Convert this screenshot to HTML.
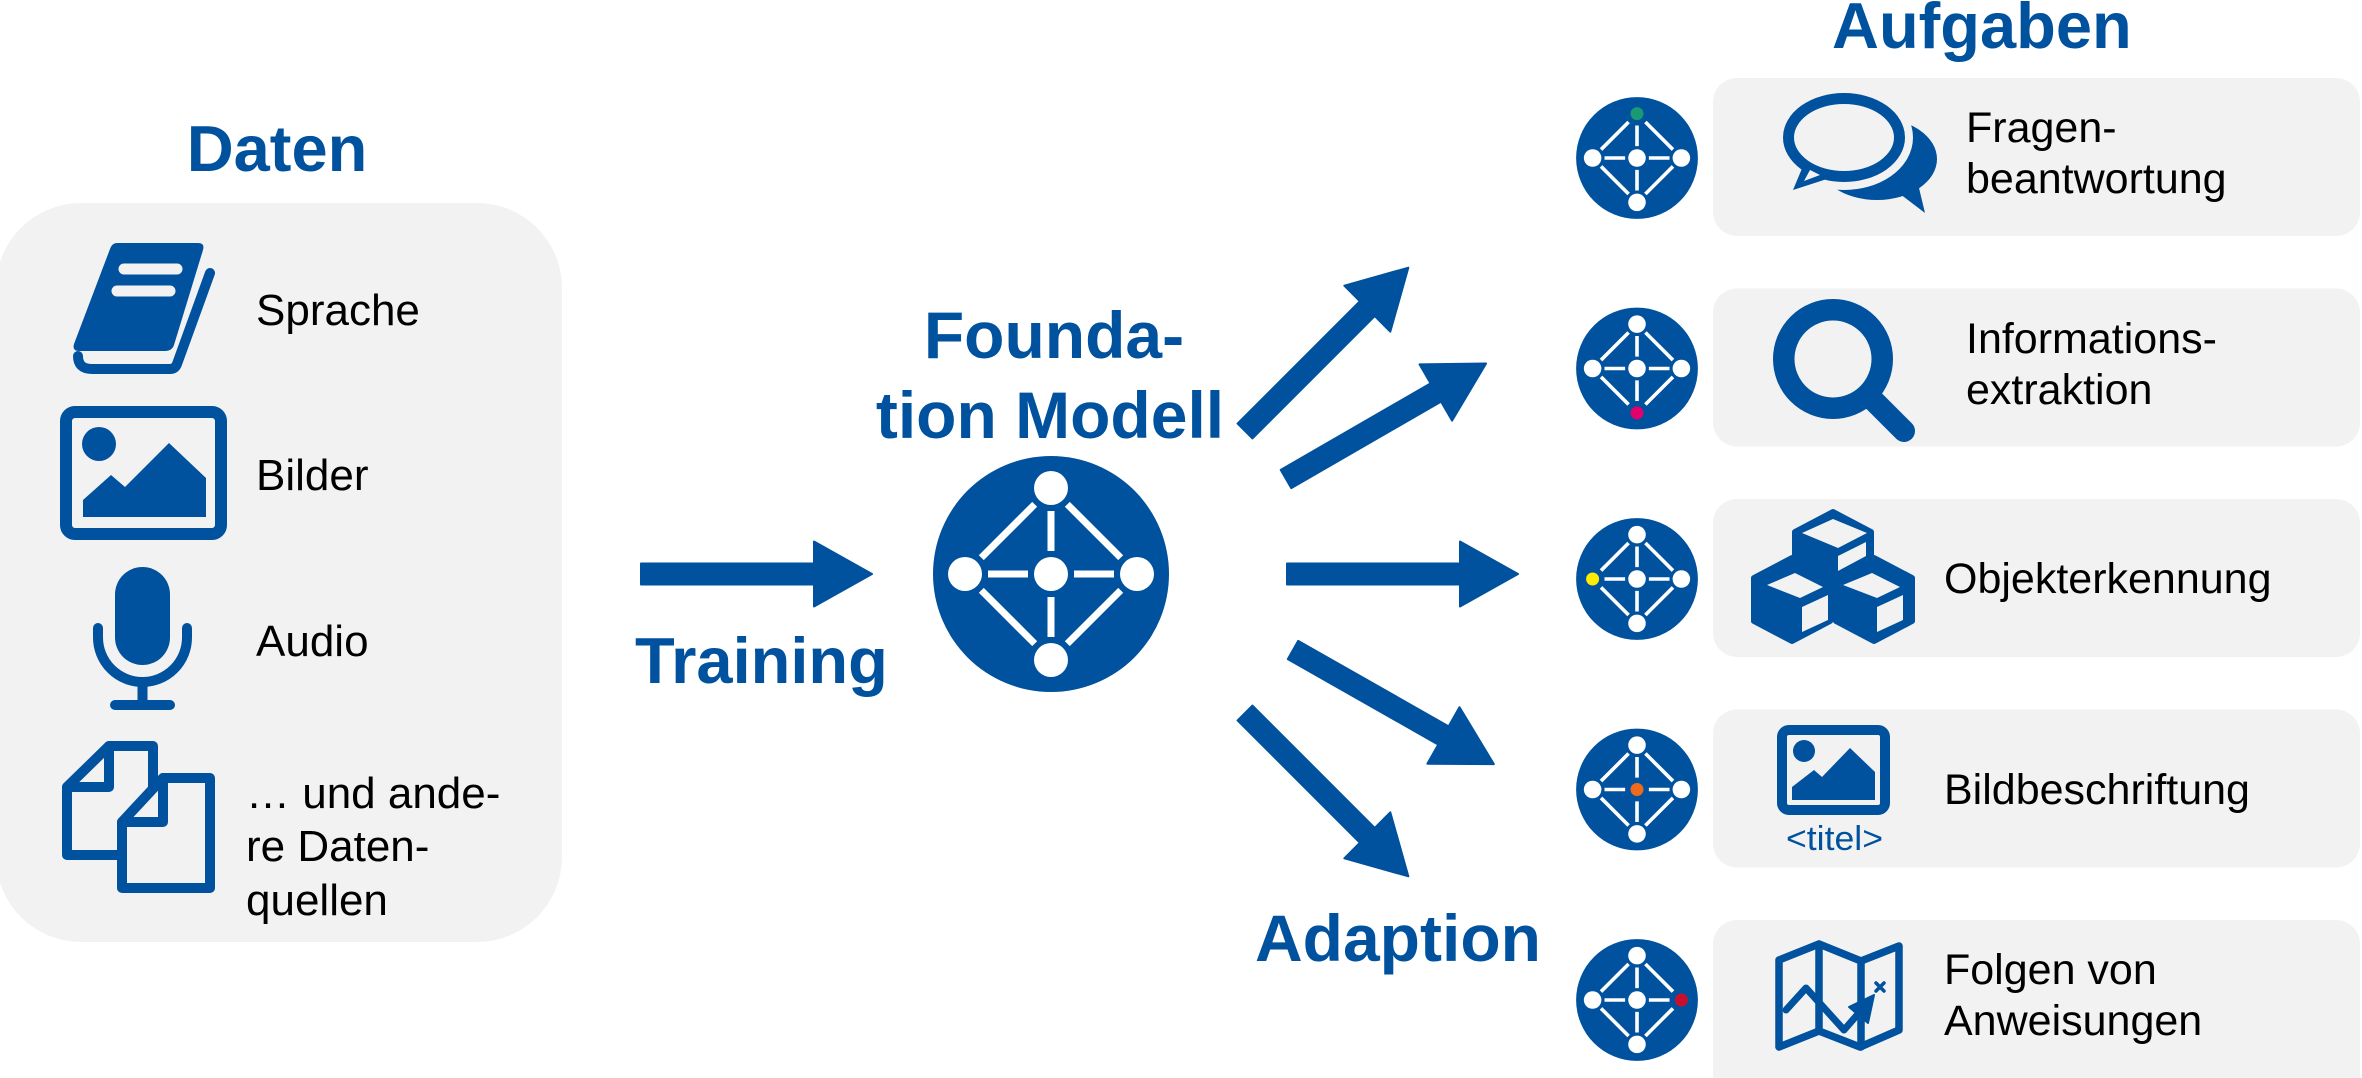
<!DOCTYPE html>
<html>
<head>
<meta charset="utf-8">
<style>
html,body{margin:0;padding:0;background:#fff;}
svg{display:block;}
.t{font-family:"Liberation Sans",Arial,sans-serif;}
.b{font-family:"Liberation Sans",Arial,sans-serif;font-weight:bold;fill:#00519e;}
</style>
</head>
<body>
<svg width="2362" height="1078" viewBox="0 0 2362 1078" xmlns="http://www.w3.org/2000/svg">
<defs>
  <g id="net">
    <circle cx="0" cy="0" r="118" fill="#00519e"/>
    <g stroke="#fff" stroke-width="7">
      <line x1="0" y1="-63" x2="0" y2="-23"/>
      <line x1="0" y1="23" x2="0" y2="63"/>
      <line x1="-63" y1="0" x2="-23" y2="0"/>
      <line x1="23" y1="0" x2="63" y2="0"/>
      <line x1="-16.3" y1="-69.7" x2="-69.7" y2="-16.3"/>
      <line x1="16.3" y1="-69.7" x2="69.7" y2="-16.3"/>
      <line x1="-69.7" y1="16.3" x2="-16.3" y2="69.7"/>
      <line x1="69.7" y1="16.3" x2="16.3" y2="69.7"/>
    </g>
    <g fill="#fff">
      <circle cx="0" cy="-86" r="17"/>
      <circle cx="-86" cy="0" r="17"/>
      <circle cx="0" cy="0" r="17"/>
      <circle cx="86" cy="0" r="17"/>
      <circle cx="0" cy="86" r="17"/>
    </g>
  </g>
  <polygon id="arr" points="0,-10.5 173,-10.5 173,-32.5 231,0 173,32.5 173,10.5 0,10.5" fill="#00519e" stroke="#00519e" stroke-width="2" stroke-linejoin="round"/>
</defs>

<!-- LEFT PANEL -->
<text x="277" y="171" class="b" font-size="65" text-anchor="middle">Daten</text>
<rect x="-4" y="203" width="566" height="739" rx="85" ry="85" fill="#f2f2f2"/>

<!-- Book -->
<path d="M78 356 Q78 369 92 369 L170 369 Q175 369 177 364 L210 273" fill="none" stroke="#00519e" stroke-width="10" stroke-linecap="round" stroke-linejoin="round"/>
<path d="M117 243 L198 243 Q205 243 203 250 L174 345 Q172 351 165 351 L79 351 Q72 351 74 344 L110 249 Q112 243 117 243 Z" fill="#00519e"/>
<line x1="124" y1="269" x2="177" y2="269" stroke="#f2f2f2" stroke-width="11" stroke-linecap="round"/>
<line x1="117" y1="291" x2="170" y2="291" stroke="#f2f2f2" stroke-width="11" stroke-linecap="round"/>
<text x="256" y="325" class="t" font-size="44" fill="#000">Sprache</text>

<!-- Image -->
<rect x="66" y="412" width="155" height="122" rx="9" fill="none" stroke="#00519e" stroke-width="12"/>
<circle cx="99" cy="444" r="17" fill="#00519e"/>
<polygon points="83,500 111,475 125,487 169,443 206,478 206,517 83,517" fill="#00519e"/>
<text x="256" y="490" class="t" font-size="44" fill="#000">Bilder</text>

<!-- Mic -->
<rect x="115" y="567" width="55" height="98" rx="27.5" fill="#00519e"/>
<path d="M98 628 L98 637.5 A44.5 44.5 0 0 0 187 637.5 L187 628" fill="none" stroke="#00519e" stroke-width="10" stroke-linecap="round"/>
<line x1="142.5" y1="682" x2="142.5" y2="703" stroke="#00519e" stroke-width="10"/>
<line x1="115" y1="705" x2="170" y2="705" stroke="#00519e" stroke-width="10" stroke-linecap="round"/>
<text x="256" y="656" class="t" font-size="44" fill="#000">Audio</text>

<!-- Docs -->
<g fill="none" stroke="#00519e" stroke-width="10" stroke-linejoin="round" stroke-linecap="round">
  <path d="M67 787 L109 746 L153 746 L153 855 L67 855 Z" fill="#f2f2f2"/>
  <path d="M109 746 L109 787 L67 787"/>
  <path d="M122 822 L163 778 L210 778 L210 888 L122 888 Z" fill="#f2f2f2"/>
  <path d="M163 778 L163 822 L122 822"/>
</g>
<text x="246" y="808" class="t" font-size="44" fill="#000">… und ande-</text>
<text x="246" y="861" class="t" font-size="44" fill="#000">re Daten-</text>
<text x="246" y="915" class="t" font-size="44" fill="#000">quellen</text>

<!-- TRAINING -->
<use href="#arr" transform="translate(641,574)"/>
<text x="635" y="683" class="b" font-size="65">Training</text>

<!-- FOUNDATION MODEL -->
<text x="1054" y="358" class="b" font-size="66" text-anchor="middle">Founda-</text>
<text x="1050" y="438" class="b" font-size="66" text-anchor="middle">tion Modell</text>
<use href="#net" transform="translate(1051,574)"/>

<!-- ADAPTION ARROWS -->
<use href="#arr" transform="translate(1245,431) rotate(-45)"/>
<use href="#arr" transform="translate(1286,479) rotate(-30)"/>
<use href="#arr" transform="translate(1287,574)"/>
<use href="#arr" transform="translate(1293,650) rotate(29.6)"/>
<use href="#arr" transform="translate(1245,713) rotate(45)"/>
<text x="1255" y="961" class="b" font-size="66">Adaption</text>

<!-- AUFGABEN -->
<text x="1832" y="48" class="b" font-size="65">Aufgaben</text>

<!-- boxes -->
<rect x="1713" y="78" width="647" height="158" rx="24" fill="#f2f2f2"/>
<rect x="1713" y="288.5" width="647" height="158" rx="24" fill="#f2f2f2"/>
<rect x="1713" y="499" width="647" height="158" rx="24" fill="#f2f2f2"/>
<rect x="1713" y="709.5" width="647" height="158" rx="24" fill="#f2f2f2"/>
<rect x="1713" y="920" width="647" height="180" rx="24" fill="#f2f2f2"/>

<!-- small nets -->
<use href="#net" transform="translate(1637,158) scale(0.516)"/>
<circle cx="1637" cy="113.6" r="10" fill="#00519e"/><circle cx="1637" cy="113.6" r="6.5" fill="#1a9a72"/>

<use href="#net" transform="translate(1637,368.5) scale(0.516)"/>
<circle cx="1637" cy="412.9" r="10" fill="#00519e"/><circle cx="1637" cy="412.9" r="6.5" fill="#e2006a"/>

<use href="#net" transform="translate(1637,579) scale(0.516)"/>
<circle cx="1592.6" cy="579" r="10" fill="#00519e"/><circle cx="1592.6" cy="579" r="6.5" fill="#ffec00"/>

<use href="#net" transform="translate(1637,789.5) scale(0.516)"/>
<circle cx="1637" cy="789.5" r="10" fill="#00519e"/><circle cx="1637" cy="789.5" r="6.5" fill="#f06a1c"/>

<use href="#net" transform="translate(1637,1000) scale(0.516)"/>
<circle cx="1681.4" cy="1000" r="10" fill="#00519e"/><circle cx="1681.4" cy="1000" r="6.5" fill="#c8102e"/>

<!-- Row1: speech bubbles -->
<ellipse cx="1877" cy="159" rx="60" ry="41" fill="#00519e"/>
<polygon points="1900,194 1925,213 1919,188" fill="#00519e"/>
<ellipse cx="1844" cy="137.5" rx="55.5" ry="39" fill="#f2f2f2" stroke="#f2f2f2" stroke-width="27"/>
<ellipse cx="1844" cy="137.5" rx="55.5" ry="39" fill="#f2f2f2" stroke="#00519e" stroke-width="11"/>
<polygon points="1803,166 1793,190 1830,178 1822,171" fill="#00519e"/>
<polygon points="1810,170 1804,181 1820,175" fill="#f2f2f2"/>
<text x="1966" y="142" class="t" font-size="43" fill="#000">Fragen-</text>
<text x="1966" y="193" class="t" font-size="43" fill="#000">beantwortung</text>

<!-- Row2: magnifier -->
<circle cx="1833" cy="359" r="49.25" fill="none" stroke="#00519e" stroke-width="21.5"/>
<line x1="1870" y1="397" x2="1904" y2="431" stroke="#00519e" stroke-width="22" stroke-linecap="round"/>
<text x="1966" y="353" class="t" font-size="43" fill="#000">Informations-</text>
<text x="1966" y="404" class="t" font-size="43" fill="#000">extraktion</text>

<!-- Row3: cubes -->
<g fill="#00519e" stroke="#00519e" stroke-width="6" stroke-linejoin="round">
  <polygon points="1833,512 1871,532 1871,576 1833,596 1795,576 1795,532"/>
  <polygon points="1792,558 1830,578 1830,621 1792,641 1754,621 1754,578"/>
  <polygon points="1874,558 1912,578 1912,621 1874,641 1836,621 1836,578"/>
</g>
<g fill="#f2f2f2">
  <polygon points="1802,533 1833,519 1867,533 1838,548"/>
  <polygon points="1838,556 1866,542 1866,556 1838,571"/>
  <polygon points="1767,585 1795,573 1823,587 1800,598"/>
  <polygon points="1802,607 1828,595 1828,620 1802,632"/>
  <polygon points="1843,585 1872,573 1900,587 1877,598"/>
  <polygon points="1877,607 1903,595 1903,620 1877,632"/>
</g>
<text x="1944" y="593" class="t" font-size="43" fill="#000">Objekterkennung</text>

<!-- Row4: picture with caption -->
<rect x="1782" y="730" width="103" height="80" rx="7" fill="none" stroke="#00519e" stroke-width="10"/>
<circle cx="1804" cy="751" r="11" fill="#00519e"/>
<polygon points="1792,787 1814,770 1822,777 1850,748 1875,772 1875,800 1792,800" fill="#00519e"/>
<text x="1786" y="850" class="t" font-size="34" fill="#00519e" textLength="97" lengthAdjust="spacingAndGlyphs">&lt;titel&gt;</text>
<text x="1944" y="804" class="t" font-size="43" fill="#000">Bildbeschriftung</text>

<!-- Row5: map -->
<g fill="none" stroke="#00519e" stroke-width="7.5" stroke-linejoin="round" stroke-linecap="round">
  <polygon points="1779,960 1819,944 1861,961 1899,946 1899,1030 1860,1047 1819,1031 1779,1047"/>
  <line x1="1819" y1="944" x2="1819" y2="1031"/>
  <line x1="1861" y1="961" x2="1861" y2="1047"/>
  <polyline points="1786,1010 1806,988 1844,1030 1858,1014" stroke-width="7"/>
  <line x1="1876" y1="983" x2="1884" y2="991" stroke-width="3.5"/>
  <line x1="1884" y1="983" x2="1876" y2="991" stroke-width="3.5"/>
</g>
<polygon points="1874,995 1849,1007 1868,1023" fill="#00519e" stroke="#00519e" stroke-width="2" stroke-linejoin="round"/>
<text x="1944" y="984" class="t" font-size="43" fill="#000">Folgen von</text>
<text x="1944" y="1035" class="t" font-size="43" fill="#000">Anweisungen</text>
</svg>
</body>
</html>
